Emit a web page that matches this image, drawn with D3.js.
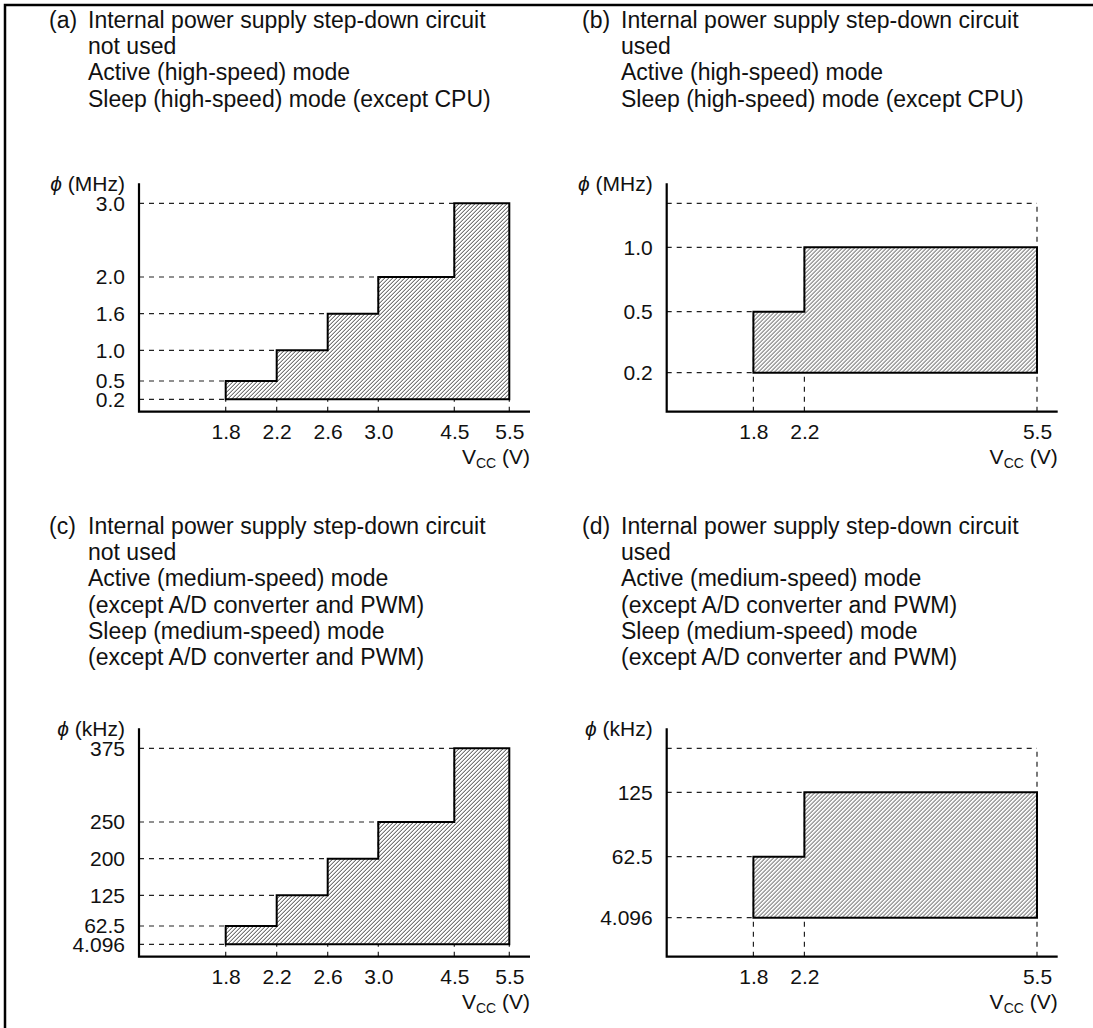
<!DOCTYPE html>
<html lang="en">
<head>
<meta charset="utf-8" />
<title>Operating frequency vs VCC</title>
<script src="https://d3js.org/d3.v7.min.js"></script>
<style>
  body { margin: 0; background: #fff; }
  svg text { font-family: "Liberation Sans", Arial, Helvetica, sans-serif; fill: #111; }
</style>
</head>
<body>
<svg id="chart" width="1093" height="1028"></svg>
<script>
// ---- data ----
const vccStair = [1.8, 2.2, 2.6, 3.0, 4.5, 5.5];
const vccBlock = [1.8, 2.2, 5.5];
const vccLabelsStair = ["1.8", "2.2", "2.6", "3.0", "4.5", "5.5"];
const vccLabelsBlock = ["1.8", "2.2", "5.5"];

// max operating frequency on each VCC interval
const phiMHzStair = [0.5, 1.0, 1.6, 2.0, 3.0];
const phiMHzBlock = [0.5, 1.0];
const phiKHzStair = [62.5, 125, 200, 250, 375];
const phiKHzBlock = [62.5, 125];
const phiMinMHz = 0.2;
const phiMinKHz = 4.096;
const phiTopMHz = 3.0;
const phiTopKHz = 375;

const yTicksMHzStair = [0.2, 0.5, 1.0, 1.6, 2.0, 3.0];
const yTicksMHzBlock = [0.2, 0.5, 1.0, 3.0];
const yTicksKHzStair = [4.096, 62.5, 125, 200, 250, 375];
const yTicksKHzBlock = [4.096, 62.5, 125, 375];
const yLabelsMHzStair = ["0.2", "0.5", "1.0", "1.6", "2.0", "3.0"];
const yLabelsMHzBlock = ["0.2", "0.5", "1.0", ""];
const yLabelsKHzStair = ["4.096", "62.5", "125", "200", "250", "375"];
const yLabelsKHzBlock = ["4.096", "62.5", "125", ""];

const titleA = ["Internal power supply step-down circuit", "not used",
  "Active (high-speed) mode", "Sleep (high-speed) mode (except CPU)"];
const titleB = ["Internal power supply step-down circuit", "used",
  "Active (high-speed) mode", "Sleep (high-speed) mode (except CPU)"];
const titleC = ["Internal power supply step-down circuit", "not used",
  "Active (medium-speed) mode", "(except A/D converter and PWM)",
  "Sleep (medium-speed) mode", "(except A/D converter and PWM)"];
const titleD = ["Internal power supply step-down circuit", "used",
  "Active (medium-speed) mode", "(except A/D converter and PWM)",
  "Sleep (medium-speed) mode", "(except A/D converter and PWM)"];

// ---- layout (schematic, non-linear axes) ----
const plotH = 228.4, axisLen = 391;
const xStops = [86.7, 137.7, 188.7, 239.3, 315.3, 370.3];   // offsets of the VCC stops
const rowsStair = [12.4, 30.7, 61.4, 98, 134.7, 208.4];     // heights of the stair panel levels
const rowsBlock = [39, 100, 164.4, 208.4];                  // heights of the block panel levels

const svg = d3.select("#chart");

// frame (top and left edge only)
svg.append("path")
  .attr("d", "M5,1028V5H1093")
  .attr("fill", "none").attr("stroke", "#000").attr("stroke-width", 2.5);

const defs = svg.append("defs");
const hatch = defs.append("pattern")
  .attr("id", "hatch").attr("patternUnits", "userSpaceOnUse")
  .attr("width", 4).attr("height", 4);
hatch.append("rect").attr("width", 4).attr("height", 4).attr("fill", "#fff");
hatch.append("path")
  .attr("d", "M-1,1L1,-1M0,4L4,0M3,5L5,3")
  .attr("stroke", "#333").attr("stroke-width", 0.95);

const xScale = d3.scaleLinear().domain(vccStair).range(xStops);

const panels = [
  { tag: "(a)", title: titleA, tx: 49, ty: 28, ox: 139, oy: 411.7, unit: "(MHz)",
    vcc: vccStair, vccLabels: vccLabelsStair, phi: phiMHzStair, min: phiMinMHz, top: phiTopMHz,
    ticks: yTicksMHzStair, labels: yLabelsMHzStair, rows: rowsStair },
  { tag: "(b)", title: titleB, tx: 582, ty: 28, ox: 666.7, oy: 411.7, unit: "(MHz)",
    vcc: vccBlock, vccLabels: vccLabelsBlock, phi: phiMHzBlock, min: phiMinMHz, top: phiTopMHz,
    ticks: yTicksMHzBlock, labels: yLabelsMHzBlock, rows: rowsBlock },
  { tag: "(c)", title: titleC, tx: 49, ty: 534, ox: 139, oy: 956.7, unit: "(kHz)",
    vcc: vccStair, vccLabels: vccLabelsStair, phi: phiKHzStair, min: phiMinKHz, top: phiTopKHz,
    ticks: yTicksKHzStair, labels: yLabelsKHzStair, rows: rowsStair },
  { tag: "(d)", title: titleD, tx: 582, ty: 534, ox: 666.7, oy: 956.7, unit: "(kHz)",
    vcc: vccBlock, vccLabels: vccLabelsBlock, phi: phiKHzBlock, min: phiMinKHz, top: phiTopKHz,
    ticks: yTicksKHzBlock, labels: yLabelsKHzBlock, rows: rowsBlock }
];

panels.forEach(p => {
  // caption
  const cap = svg.append("g").attr("font-size", 23);
  cap.append("text").attr("x", p.tx).attr("y", p.ty).text(p.tag);
  p.title.forEach((line, i) => {
    cap.append("text").attr("x", p.tx + 39).attr("y", p.ty + i * 26.2).text(line);
  });

  const g = svg.append("g").attr("transform", `translate(${p.ox},${p.oy})`);
  const y = d3.scaleLinear().domain(p.ticks).range(p.rows.map(r => -r));
  const n = p.phi.length;
  const last = p.vcc.length - 1;

  // dashed guides
  const guides = g.append("g")
    .attr("stroke", "#222").attr("stroke-width", 1.2).attr("stroke-dasharray", "5,5");
  p.ticks.forEach(t => {
    let xEnd;
    if (t === p.min) xEnd = p.vcc[0];
    else {
      const k = p.phi.indexOf(t);
      xEnd = k >= 0 ? p.vcc[k] : p.vcc[last];
    }
    guides.append("line")
      .attr("x1", 0).attr("x2", xScale(xEnd))
      .attr("y1", y(t)).attr("y2", y(t));
  });
  p.vcc.forEach((v, i) => {
    const lvl = i === last ? p.top : p.phi[Math.min(i, n - 1)];
    guides.append("line")
      .attr("x1", xScale(v)).attr("x2", xScale(v))
      .attr("y1", 0).attr("y2", y(lvl));
  });

  // operating region
  const pts = p.vcc.map((v, i) => ({ v, f: p.phi[Math.min(i, n - 1)] }));
  const area = d3.area()
    .curve(d3.curveStepAfter)
    .x(d => xScale(d.v))
    .y0(y(p.min))
    .y1(d => y(d.f));
  g.append("path")
    .datum(pts)
    .attr("d", area(pts) + "Z")
    .attr("fill", "url(#hatch)")
    .attr("stroke", "#000").attr("stroke-width", 2)
    .attr("stroke-linejoin", "miter");

  // axes lines
  g.append("path")
    .attr("d", `M0,${-plotH}V0H${axisLen}`)
    .attr("fill", "none").attr("stroke", "#000").attr("stroke-width", 2.2);

  // tick labels via d3 axes
  const xAxis = g.append("g")
    .call(d3.axisBottom(xScale).tickValues(p.vcc).tickSize(0).tickPadding(12.5)
      .tickFormat((d, i) => p.vccLabels[i]));
  const yAxis = g.append("g")
    .call(d3.axisLeft(y).tickValues(p.ticks).tickSize(0).tickPadding(14)
      .tickFormat((d, i) => p.labels[i]));
  [xAxis, yAxis].forEach(a => {
    a.select(".domain").remove();
    a.selectAll("text").attr("font-size", 21).attr("fill", "#111")
      .attr("font-family", "Liberation Sans, Arial, sans-serif");
  });

  // axis titles
  const yl = g.append("text")
    .attr("x", -14).attr("y", -plotH + 8).attr("text-anchor", "end").attr("font-size", 21);
  yl.append("tspan").attr("font-style", "italic").text("ϕ");
  yl.append("tspan").text(" " + p.unit);

  const xl = g.append("text")
    .attr("x", axisLen).attr("y", 52).attr("text-anchor", "end").attr("font-size", 21);
  xl.append("tspan").text("V");
  xl.append("tspan").attr("font-size", 14).attr("dy", 4).text("CC");
  xl.append("tspan").attr("dy", -4).text(" (V)");
});
</script>
</body>
</html>
